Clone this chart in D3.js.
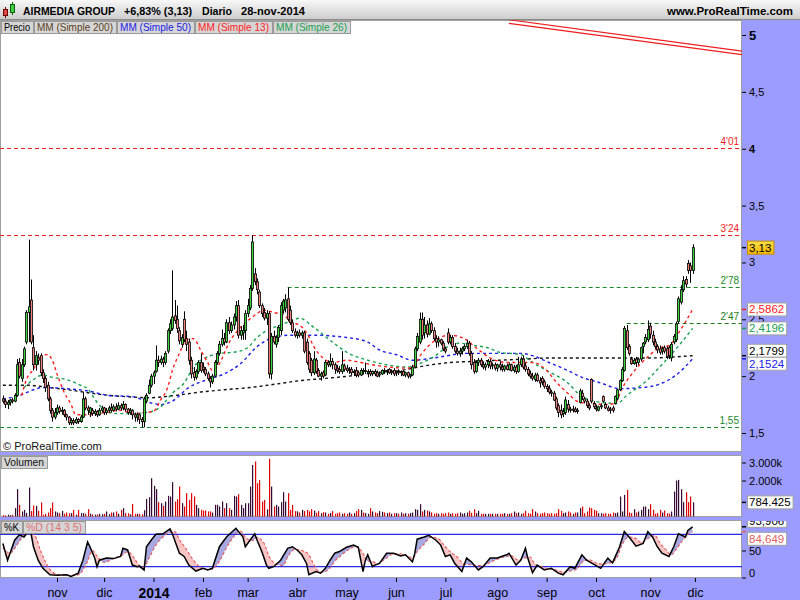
<!DOCTYPE html>
<html><head><meta charset="utf-8">
<script src="https://cdn.jsdelivr.net/npm/d3@7/dist/d3.min.js"></script>
<style>
html,body{margin:0;padding:0;background:#fff;}
svg{display:block;font-family:"Liberation Sans",Arial,sans-serif;}
</style></head><body>
<svg id="chart" width="800" height="600"></svg>
<script>
// ================= DATA (daily bars, 1-oct-2013 .. 28-nov-2014) =================
const open = [
 1.80,1.78,1.75,1.77,1.79,1.78,1.83,2.12,1.98,2.10,2.30,2.56,2.67,2.25,2.10,2.16,2.18,2.03,1.98,1.92,1.80,1.70,1.64,
 1.68,1.72,1.69,1.70,1.66,1.64,1.59,1.61,1.59,1.62,1.60,1.64,1.80,1.72,1.68,1.70,1.67,1.69,1.66,1.70,
 1.72,1.68,1.70,1.72,1.70,1.73,1.71,1.74,1.72,1.75,1.71,1.68,1.70,1.66,1.64,1.66,1.62,1.60,1.78,1.85,1.92,
 2.00,2.04,2.14,2.12,2.15,2.12,2.22,2.40,2.42,2.53,2.50,2.40,2.28,2.50,2.33,2.30,2.14,2.03,1.99,2.04,2.12,
 2.08,2.06,2.02,1.98,1.95,2.00,2.12,2.20,2.28,2.33,2.30,2.47,2.40,2.45,2.52,2.62,2.36,2.38,2.40,
 2.55,2.60,2.77,2.90,2.83,2.74,2.62,2.56,2.51,2.55,2.02,2.35,2.28,2.34,2.40,2.58,2.60,2.68,2.58,2.47,2.39,
 2.36,2.38,2.36,2.38,2.30,2.20,2.14,2.03,2.14,2.05,2.00,2.03,2.01,2.12,2.10,2.13,2.10,2.07,2.06,2.04,2.09,
 2.07,2.05,2.06,2.03,2.05,2.03,2.01,2.05,2.04,2.03,2.04,2.02,2.04,2.03,2.01,2.02,2.05,2.04,2.06,2.03,2.05,
 2.03,2.04,2.03,2.04,2.01,2.03,2.00,2.01,2.08,2.24,2.30,2.50,2.38,2.45,2.37,2.46,2.40,2.33,2.30,2.32,2.29,
 2.24,2.38,2.30,2.34,2.26,2.22,2.20,2.22,2.24,2.26,2.29,2.20,2.12,2.04,2.12,2.14,2.10,2.08,2.10,2.13,2.09,2.10,
 2.07,2.10,2.08,2.06,2.09,2.06,2.10,2.05,2.08,2.04,2.10,2.15,2.09,2.06,2.02,2.00,1.97,2.01,1.96,1.98,1.95,
 1.91,1.89,1.86,1.85,1.80,1.74,1.70,1.67,1.68,1.75,1.71,1.70,1.71,1.69,1.77,1.85,1.80,1.78,1.74,1.97,1.76,
 1.72,1.70,1.73,1.82,1.75,1.72,1.71,1.72,1.76,1.80,1.88,1.96,2.05,2.40,2.26,2.15,2.11,2.15,2.12,2.15,2.26,2.30,2.32,
 2.44,2.36,2.30,2.26,2.24,2.22,2.25,2.24,2.25,2.16,2.30,2.32,2.48,2.65,2.76,2.85,2.99,2.97,2.93];
const high = [
 1.83,1.80,1.79,1.80,1.81,1.85,2.15,2.16,2.15,2.26,2.58,3.20,2.85,2.36,2.22,2.20,2.20,2.06,2.00,1.95,1.82,1.72,1.72,
 1.75,1.74,1.73,1.71,1.67,1.65,1.63,1.63,1.64,1.63,1.66,1.86,1.82,1.74,1.73,1.72,1.71,1.70,1.72,1.74,
 1.73,1.72,1.74,1.76,1.75,1.76,1.77,1.76,1.78,1.76,1.72,1.72,1.71,1.68,1.68,1.67,1.64,1.82,1.85,1.97,2.02,
 2.05,2.27,2.18,2.18,2.17,2.22,2.42,2.50,2.93,2.67,2.62,2.43,2.37,2.57,2.40,2.33,2.17,2.08,2.06,2.14,2.20,
 2.12,2.08,2.04,2.00,2.02,2.14,2.22,2.31,2.41,2.38,2.50,2.52,2.48,2.55,2.66,2.67,2.44,2.45,2.58,
 2.68,2.80,3.24,2.95,2.86,2.76,2.64,2.60,2.58,2.57,2.38,2.40,2.36,2.45,2.65,2.68,2.72,2.78,2.62,2.50,2.42,
 2.40,2.41,2.40,2.40,2.33,2.22,2.16,2.22,2.16,2.07,2.04,2.05,2.14,2.14,2.20,2.16,2.12,2.10,2.09,2.22,2.11,
 2.10,2.08,2.08,2.06,2.08,2.05,2.07,2.07,2.12,2.06,2.06,2.05,2.06,2.05,2.04,2.06,2.07,2.06,2.07,2.06,2.07,
 2.05,2.06,2.05,2.05,2.04,2.04,2.02,2.10,2.26,2.38,2.56,2.56,2.52,2.49,2.51,2.48,2.43,2.36,2.35,2.33,2.31,
 2.26,2.42,2.36,2.36,2.29,2.25,2.25,2.26,2.28,2.32,2.31,2.22,2.15,2.14,2.16,2.16,2.13,2.12,2.15,2.15,2.12,2.12,
 2.11,2.13,2.11,2.10,2.11,2.12,2.11,2.10,2.10,2.17,2.17,2.18,2.12,2.08,2.05,2.03,2.03,2.03,1.99,2.00,1.97,
 1.93,1.92,1.88,1.87,1.82,1.76,1.75,1.72,1.82,1.79,1.73,1.74,1.73,1.72,1.89,1.88,1.82,1.80,1.76,1.98,1.78,
 1.75,1.74,1.76,1.83,1.77,1.74,1.73,1.74,1.83,1.89,1.97,2.08,2.44,2.45,2.28,2.17,2.16,2.17,2.16,2.26,2.30,2.37,2.49,
 2.47,2.40,2.33,2.28,2.27,2.26,2.27,2.26,2.27,2.30,2.37,2.48,2.70,2.80,2.88,2.88,3.02,3.00,3.16];
const low = [
 1.76,1.72,1.71,1.74,1.76,1.77,1.82,1.98,1.95,2.08,2.28,2.30,2.28,2.05,2.05,2.10,2.00,1.94,1.86,1.78,1.67,1.60,1.62,
 1.66,1.67,1.66,1.64,1.61,1.57,1.57,1.57,1.58,1.58,1.59,1.63,1.70,1.66,1.64,1.65,1.65,1.64,1.65,1.68,
 1.66,1.66,1.68,1.68,1.69,1.69,1.70,1.70,1.70,1.69,1.66,1.66,1.62,1.60,1.60,1.58,1.55,1.55,1.76,1.84,1.90,
 1.93,2.03,2.08,2.10,2.08,2.10,2.20,2.37,2.40,2.46,2.38,2.28,2.25,2.30,2.22,2.10,1.98,1.96,1.97,2.02,2.03,
 2.03,2.00,1.96,1.90,1.93,1.99,2.10,2.18,2.26,2.27,2.29,2.37,2.38,2.41,2.48,2.33,2.32,2.32,2.32,
 2.52,2.58,2.75,2.80,2.72,2.60,2.52,2.49,2.45,1.98,1.97,2.28,2.25,2.30,2.36,2.55,2.56,2.48,2.45,2.38,2.34,
 2.33,2.34,2.33,2.20,2.10,2.03,2.00,2.01,2.02,1.99,1.96,1.98,2.00,2.08,2.08,2.06,2.02,2.03,2.02,2.02,2.04,
 2.03,2.02,2.01,2.00,1.99,1.99,2.00,2.02,2.02,1.99,2.00,2.00,2.00,1.99,1.99,2.01,2.02,2.01,2.02,2.01,2.00,
 2.00,2.01,2.00,2.00,1.99,1.98,1.98,2.00,2.07,2.22,2.28,2.32,2.33,2.34,2.36,2.38,2.31,2.25,2.26,2.27,2.22,
 2.20,2.28,2.28,2.24,2.20,2.18,2.17,2.19,2.22,2.24,2.18,2.06,2.02,2.03,2.09,2.08,2.06,2.05,2.07,2.06,2.06,2.05,
 2.04,2.05,2.04,2.04,2.05,2.05,2.04,2.03,2.02,2.03,2.08,2.06,2.04,2.00,1.98,1.96,1.95,1.95,1.90,1.92,1.89,
 1.86,1.84,1.82,1.78,1.70,1.64,1.63,1.64,1.66,1.68,1.68,1.68,1.68,1.67,1.76,1.79,1.76,1.72,1.70,1.76,1.71,
 1.69,1.69,1.71,1.77,1.71,1.69,1.67,1.68,1.75,1.79,1.87,1.95,2.04,2.23,2.18,2.10,2.10,2.08,2.10,2.13,2.20,2.28,2.30,
 2.33,2.27,2.24,2.20,2.19,2.19,2.20,2.15,2.15,2.13,2.28,2.30,2.46,2.63,2.74,2.78,2.90,2.82,2.90];
const close = [
 1.78,1.75,1.77,1.79,1.78,1.83,2.10,2.00,2.10,2.24,2.56,2.61,2.30,2.10,2.18,2.14,2.03,1.98,1.90,1.80,1.70,1.64,1.68,
 1.72,1.69,1.70,1.66,1.64,1.59,1.61,1.59,1.62,1.60,1.64,1.80,1.72,1.70,1.72,1.67,1.69,1.66,1.70,1.72,
 1.68,1.70,1.72,1.70,1.73,1.71,1.74,1.72,1.75,1.71,1.68,1.70,1.66,1.64,1.66,1.62,1.60,1.80,1.83,1.92,2.00,
 2.03,2.14,2.12,2.15,2.12,2.20,2.40,2.46,2.52,2.49,2.42,2.31,2.34,2.32,2.28,2.14,2.02,1.99,2.04,2.12,2.05,
 2.06,2.02,1.98,1.95,2.00,2.12,2.20,2.28,2.33,2.30,2.47,2.40,2.45,2.52,2.62,2.36,2.40,2.40,2.55,
 2.62,2.77,3.18,2.83,2.76,2.62,2.55,2.51,2.55,2.02,2.35,2.30,2.34,2.43,2.62,2.66,2.67,2.50,2.47,2.40,2.36,
 2.38,2.36,2.38,2.22,2.12,2.06,2.03,2.15,2.04,2.00,2.02,2.00,2.12,2.10,2.13,2.10,2.06,2.05,2.04,2.10,2.06,
 2.05,2.06,2.03,2.04,2.01,2.01,2.05,2.04,2.05,2.04,2.02,2.04,2.02,2.00,2.02,2.05,2.04,2.05,2.03,2.04,2.02,
 2.04,2.03,2.04,2.01,2.03,2.00,2.01,2.08,2.24,2.35,2.50,2.36,2.45,2.37,2.46,2.40,2.33,2.30,2.32,2.29,2.24,
 2.22,2.30,2.34,2.26,2.22,2.20,2.22,2.24,2.26,2.29,2.20,2.10,2.04,2.12,2.14,2.10,2.08,2.10,2.13,2.09,2.10,2.07,
 2.10,2.08,2.06,2.09,2.06,2.10,2.05,2.08,2.04,2.10,2.15,2.08,2.06,2.02,2.00,1.98,2.01,1.96,1.94,1.95,1.91,
 1.89,1.86,1.85,1.79,1.72,1.68,1.66,1.69,1.79,1.71,1.70,1.71,1.69,1.70,1.87,1.82,1.78,1.74,1.72,1.78,1.73,
 1.71,1.73,1.74,1.78,1.72,1.70,1.70,1.70,1.82,1.88,1.96,2.06,2.42,2.25,2.20,2.11,2.14,2.12,2.15,2.25,2.29,2.34,2.41,
 2.37,2.30,2.26,2.23,2.21,2.24,2.22,2.17,2.18,2.28,2.35,2.46,2.68,2.76,2.84,2.81,2.93,2.93,3.13];
// volume, thousands of shares
const volume = [
 80,60,100,70,90,463,1517,648,280,370,200,1610,300,611,592,315,777,93,150,222,463,777,280,
 222,185,315,150,222,180,185,370,100,370,185,185,150,407,150,120,100,110,150,130,
 148,280,130,222,222,280,150,370,463,185,185,120,700,148,148,148,120,350,980,1073,2128,
 1702,1517,796,740,592,833,1147,1110,1906,833,962,1665,740,555,1295,925,1295,1110,648,463,370,
 330,330,280,280,220,650,650,555,833,463,740,463,370,1147,1110,1240,648,463,740,
 740,1665,2868,3053,1850,2035,833,925,400,3200,1665,555,648,555,796,1350,833,1295,370,648,300,
 280,222,370,300,370,280,407,330,200,300,185,240,222,150,200,300,148,185,222,150,185,
 150,222,148,185,300,407,370,222,185,150,463,280,222,185,300,260,222,185,222,150,185,
 185,150,222,150,185,148,185,222,407,370,685,278,370,333,280,222,150,185,148,185,150,
 185,222,150,185,148,185,222,150,185,222,315,200,407,185,315,148,150,148,150,148,150,148,
 148,150,148,185,150,148,185,278,185,222,150,185,315,185,150,407,278,185,150,185,222,
 185,150,185,150,185,407,315,185,222,278,222,150,222,222,463,555,185,278,500,463,370,
 315,185,185,150,185,150,148,222,185,222,1110,278,1203,1480,222,185,407,222,278,370,555,555,407,
 685,370,150,185,370,222,333,185,150,278,1388,1998,2035,1517,796,1350,796,1110,784.425];

// month axis: bar index of the first session of each month, and its label
const monthIdx = [23,43,64,85,104,125,146,167,188,210,231,252,275,294];
const monthLabels = ["nov","dic","2014","feb","mar","abr","may","jun","jul","ago","sep","oct","nov","dic"];
const priceTicks = [1.5,2,2.5,3,3.5,4,4.5,5];
const volTicks = [2000,3000];
const stochTicks = [0,50];

// moving averages (bar index, value)
const ma200Idx = [0,10,20,31,41,52,62,73,84,94,105,116,126,137,147,158,169,179,190,200,211,222,232,243,254,264,275,286,293];
const ma200Val = [1.92,1.92,1.90,1.87,1.84,1.82,1.81,1.83,1.86,1.88,1.90,1.93,1.96,1.98,2.00,2.03,2.05,2.09,2.12,2.13,2.14,2.15,2.16,2.16,2.16,2.16,2.16,2.17,2.1799];
const ma50Idx = [0,7,13,17,27,36,45,55,62,67,72,79,87,94,101,108,115,122,132,146,155,160,167,174,183,197,211,220,225,232,240,246,254,262,272,279,286,293];
const ma50Val = [1.80,1.83,1.88,1.90,1.89,1.87,1.83,1.82,1.77,1.75,1.78,1.90,1.97,2.02,2.11,2.26,2.34,2.36,2.36,2.34,2.30,2.23,2.19,2.14,2.16,2.20,2.20,2.20,2.18,2.12,2.05,1.99,1.94,1.89,1.90,1.93,2.01,2.1524];
const ma13Idx = [8,10,13,16,19,21,23,26,29,31,36,40,44,50,55,60,64,67,70,72,75,78,81,84,87,89,92,96,101,106,111,115,119,123,126,129,133,136,140,146,152,157,164,172,174,178,184,190,196,201,207,214,225,231,235,240,245,251,256,260,263,268,274,278,283,288,293];
const ma13Val = [1.83,1.97,2.06,2.17,2.19,2.14,2.02,1.86,1.75,1.66,1.66,1.67,1.68,1.70,1.67,1.68,1.69,1.79,1.90,2.05,2.20,2.32,2.33,2.23,2.12,2.05,2.11,2.29,2.43,2.52,2.58,2.56,2.54,2.47,2.45,2.38,2.23,2.16,2.12,2.14,2.12,2.10,2.08,2.07,2.08,2.20,2.32,2.36,2.33,2.25,2.16,2.12,2.12,2.05,1.95,1.85,1.77,1.76,1.75,1.76,1.89,2.04,2.17,2.24,2.27,2.41,2.5862];
const ma26Idx = [9,13,17,21,27,33,36,40,45,50,55,61,67,72,77,81,87,92,98,104,108,112,118,123,126,132,140,147,155,163,172,177,183,189,194,200,206,211,220,225,231,240,246,254,261,265,274,279,286,293];
const ma26Val = [1.90,1.97,2.01,1.99,1.97,1.92,1.89,1.77,1.68,1.67,1.67,1.68,1.73,1.85,1.94,2.08,2.17,2.20,2.21,2.25,2.34,2.40,2.45,2.49,2.51,2.43,2.30,2.20,2.14,2.10,2.08,2.11,2.17,2.26,2.29,2.27,2.25,2.21,2.19,2.12,2.05,1.94,1.82,1.77,1.76,1.83,1.97,2.08,2.24,2.4196];

// stochastic %K / %D (14 3 5) (bar index, value)
const kIdx = [0,2,5,7,9,11,12,13,15,17,20,23,27,29,32,34,36,37,39,40,41,44,47,50,51,53,55,57,58,60,61,63,65,68,71,72,75,77,79,82,85,87,89,92,95,98,99,102,103,105,107,108,110,112,113,115,118,121,123,125,127,129,130,133,135,137,139,141,143,146,149,151,153,154,155,157,158,160,163,166,169,171,174,175,176,179,181,184,186,188,190,192,195,197,199,202,204,207,210,214,215,218,220,222,223,225,227,230,233,236,238,241,243,246,248,250,254,257,259,262,264,266,269,272,274,276,278,280,283,285,287,290,291,293];
const kVal = [63,32,69,79,75,87,81,57,32,17,5,4,5,2,8,32,66,57,36,20,32,36,35,39,54,51,23,20,21,14,57,69,80,81,90,81,45,39,23,12,17,14,17,57,75,87,91,75,57,69,81,69,48,23,17,20,32,54,57,51,42,26,5,11,8,17,32,45,48,56,60,56,11,32,42,20,23,26,45,45,40,42,29,45,71,75,78,69,60,39,42,26,11,36,29,14,20,36,36,42,45,23,32,54,36,9,23,14,17,8,5,20,17,42,32,27,17,36,27,57,85,75,58,63,85,75,57,45,39,57,81,75,87,93.906];
const dIdx = [0,3,6,9,12,14,16,18,20,23,27,31,33,36,38,40,43,46,48,51,53,56,58,60,62,65,68,70,73,75,78,80,83,86,89,92,95,98,101,103,106,108,111,113,116,119,121,124,127,130,132,134,136,139,141,144,147,150,153,155,157,159,162,165,169,172,174,176,179,182,185,187,190,193,196,198,201,204,207,210,213,216,219,221,224,226,229,232,235,238,241,244,246,249,252,255,258,261,263,266,269,271,274,277,279,282,284,286,289,291,293];
const dVal = [55,45,60,78,82,75,50,30,15,6,4,4,8,30,50,40,28,33,37,42,48,35,22,20,35,60,75,82,85,70,52,38,22,15,16,30,55,75,86,75,68,74,63,40,25,22,38,52,50,42,25,12,10,18,30,42,52,57,45,30,30,25,33,42,44,40,36,48,62,75,72,62,48,38,25,24,22,22,28,34,38,40,32,35,38,25,20,16,14,10,12,16,28,33,27,25,27,38,60,75,72,65,72,78,65,50,42,52,70,80,84.649];

// horizontal levels drawn on the chart
const levelVal = [4.01, 3.24, 2.78, 2.47, 1.55];
const levelText = ["4'01","3'24","2'78","2'47","1,55"];
const levelFrom = [0, 0, 121, 265, 0];
const levelColor = ["#ee1c1c","#ee1c1c","#1a8a2a","#1a7a1a","#1a8a2a"];
// double red trend line (bar index, price)
const trendIdx = [215, 314];
const trendA = [5.134, 4.859];
const trendB = [5.103, 4.828];

// ================= DRAW =================
const svg = d3.select("#chart");
const PR = 742;
const PURPLE = "#9c9cff";
const FRAME = "#a0a0a0";
const UP = "#3ed43e", DOWN = "#f08080";
const C13 = "#ff2020", C26 = "#18a050", C50 = "#2020e6", C200 = "#111";

const x = d3.scaleLinear().domain([0, 314]).range([2.86, PR]);
const yP = d3.scaleLinear().domain([1.5, 5]).range([433, 35]);
const yV = d3.scaleLinear().domain([0, 3000]).range([516.5, 462.5]);
const yS = d3.scaleLinear().domain([0, 100]).range([577.5, 523.5]);
const loc = d3.formatLocale({decimal: ",", thousands: ".", grouping: [3], currency: ["", ""]});
const comma = v => String(v).replace(".", ",");

const defs = svg.append("defs");
const hg = defs.append("linearGradient").attr("id","hdr").attr("x1",0).attr("x2",0).attr("y1",0).attr("y2",1);
hg.append("stop").attr("offset",0).attr("stop-color","#f8f8f8");
hg.append("stop").attr("offset",1).attr("stop-color","#cbcbcb");
const yg = defs.append("linearGradient").attr("id","yel").attr("x1",0).attr("x2",0).attr("y1",0).attr("y2",1);
yg.append("stop").attr("offset",0).attr("stop-color","#ffe04a");
yg.append("stop").attr("offset",1).attr("stop-color","#f4b400");
function clip(id, x0, y0, w, h){ defs.append("clipPath").attr("id", id).append("rect").attr("x",x0).attr("y",y0).attr("width",w).attr("height",h); }
clip("cMain", 0, 20, PR, 432);
clip("cVol", 0, 455, PR, 62);
clip("cSt", 0, 520, PR, 58);
clip("cStAx", PR, 521, 800-PR, 57);

// backgrounds
svg.append("rect").attr("width",800).attr("height",600).attr("fill","#fff");
svg.append("rect").attr("x",PR).attr("y",20).attr("width",800-PR).attr("height",580).attr("fill",PURPLE);
svg.append("rect").attr("x",0).attr("y",578).attr("width",PR).attr("height",22).attr("fill",PURPLE);
svg.append("rect").attr("x",0).attr("y",452).attr("width",PR).attr("height",3).attr("fill",PURPLE);
svg.append("rect").attr("x",0).attr("y",517).attr("width",PR).attr("height",3).attr("fill",PURPLE);
[[20,452],[455,517],[520,578]].forEach(([t,b]) =>
  svg.append("rect").attr("x",0.5).attr("y",t+0.5).attr("width",PR-1).attr("height",b-t-1)
     .attr("fill","#fff").attr("stroke",FRAME));

// ---------- main price panel ----------
const gm = svg.append("g").attr("clip-path","url(#cMain)");
levelVal.forEach((v,i) => {
  gm.append("line").attr("x1", levelFrom[i] ? x(levelFrom[i]) : 0).attr("x2", PR)
    .attr("y1", Math.round(yP(v))+0.5).attr("y2", Math.round(yP(v))+0.5)
    .attr("stroke", levelColor[i]).attr("stroke-width",1).attr("stroke-dasharray","4,3");
  gm.append("text").attr("x", PR-3).attr("y", yP(v)-3).attr("text-anchor","end")
    .attr("font-size",10).attr("fill", levelColor[i]).text(levelText[i]);
});
// trend lines
const tl = d3.line().x(d=>x(d[0])).y(d=>yP(d[1]));
[trendA, trendB].forEach(arr => gm.append("path").attr("d", tl(trendIdx.map((t,i)=>[t, arr[i]])))
   .attr("fill","none").attr("stroke","#ee1c1c").attr("stroke-width",1.2));

// moving averages
const maLine = d3.line().x(d=>x(d[0])).y(d=>yP(d[1])).curve(d3.curveMonotoneX);
[[ma200Idx, ma200Val, C200],[ma50Idx, ma50Val, C50],[ma26Idx, ma26Val, C26],[ma13Idx, ma13Val, C13]].forEach(([ix, vv, col]) => {
  gm.append("path").attr("d", maLine(ix.map((t,i)=>[t, vv[i]])))
    .attr("fill","none").attr("stroke", col).attr("stroke-width",1.4).attr("stroke-dasharray","3,3");
});

// candles
const bars = d3.range(close.length);
gm.append("g").selectAll("line").data(bars).join("line")
  .attr("x1", i => Math.round(x(i))+0.5).attr("x2", i => Math.round(x(i))+0.5)
  .attr("y1", i => yP(high[i])).attr("y2", i => yP(low[i]))
  .attr("stroke","#000").attr("stroke-width",1);
gm.append("g").selectAll("rect").data(bars).join("rect")
  .attr("x", i => Math.round(x(i))-0.5).attr("width", 2)
  .attr("y", i => yP(Math.max(open[i], close[i])))
  .attr("height", i => Math.max(1, Math.abs(yP(open[i]) - yP(close[i]))))
  .attr("fill", i => close[i] >= open[i] ? UP : DOWN)
  .attr("stroke","#000").attr("stroke-width",0.8);

svg.append("text").attr("x",3).attr("y",450).attr("font-size",11).attr("fill","#111").text("© ProRealTime.com");

// ---------- volume panel ----------
const gv = svg.append("g").attr("clip-path","url(#cVol)");
gv.selectAll("rect").data(bars).join("rect")
  .attr("x", i => Math.round(x(i))).attr("width", 1.2)
  .attr("y", i => yV(volume[i])).attr("height", i => yV(0) - yV(volume[i]))
  .attr("fill", i => close[i] >= open[i] ? "#340a34" : "#dd0000");

// ---------- stochastic panel ----------
const gs = svg.append("g").attr("clip-path","url(#cSt)");
const kPts = kIdx.map((t,i)=>[t, kVal[i]]);
const dPts = dIdx.map((t,i)=>[t, dVal[i]]);
const dCurve = d3.curveMonotoneX;
defs.append("clipPath").attr("id","belowK").append("path")
  .attr("d", d3.area().x(d=>x(d[0])).y0(d=>yS(d[1])).y1(600)(kPts));
defs.append("clipPath").attr("id","belowD").append("path")
  .attr("d", d3.area().x(d=>x(d[0])).y0(d=>yS(d[1])).y1(600).curve(dCurve)(dPts));
gs.append("path").attr("clip-path","url(#belowK)")
  .attr("d", d3.area().x(d=>x(d[0])).y0(d=>yS(d[1])).y1(500).curve(dCurve)(dPts))
  .attr("fill","#a9a9e2");
gs.append("path").attr("clip-path","url(#belowD)")
  .attr("d", d3.area().x(d=>x(d[0])).y0(d=>yS(d[1])).y1(500)(kPts))
  .attr("fill","#f6c6c6");
[80,20].forEach(v => gs.append("line").attr("x1",0).attr("x2",PR)
  .attr("y1", yS(v)).attr("y2", yS(v)).attr("stroke","#2a2ae0").attr("stroke-width",1.3));
gs.append("path").attr("d", d3.line().x(d=>x(d[0])).y(d=>yS(d[1])).curve(dCurve)(dPts))
  .attr("fill","none").attr("stroke","#e85a5a").attr("stroke-width",1.1).attr("stroke-dasharray","3,2");
gs.append("path").attr("d", d3.line().x(d=>x(d[0])).y(d=>yS(d[1]))(kPts))
  .attr("fill","none").attr("stroke","#000").attr("stroke-width",1.5);

// ---------- axes ----------
const axP = svg.append("g").attr("transform",`translate(${PR},0)`)
  .call(d3.axisRight(yP).tickValues(priceTicks).tickSize(4).tickPadding(3).tickFormat(comma));
axP.select(".domain").remove();
axP.selectAll("text").attr("font-family","Liberation Sans, Arial, sans-serif").attr("fill","#000")
   .attr("font-weight", d => (d === 5 || d === 4) ? "bold" : null)
   .attr("font-size", d => d === 5 ? 13 : 11);
const axV = svg.append("g").attr("transform",`translate(${PR},0)`)
  .call(d3.axisRight(yV).tickValues(volTicks).tickSize(4).tickPadding(3).tickFormat(d => loc.format(",")(d) + "k"));
axV.select(".domain").remove();
axV.selectAll("text").attr("font-size",11).attr("font-family","Liberation Sans, Arial, sans-serif");
const axS = svg.append("g").attr("transform",`translate(${PR},0)`)
  .call(d3.axisRight(yS).tickValues(stochTicks).tickSize(4).tickPadding(3));
axS.select(".domain").remove();
axS.selectAll("text").attr("font-size",11).attr("font-family","Liberation Sans, Arial, sans-serif")
   .attr("dy", d => d === 0 ? "-0.1em" : "0.32em");
const axX = svg.append("g").attr("transform","translate(0,578)")
  .call(d3.axisBottom(x).tickValues(monthIdx).tickSize(4).tickPadding(6).tickFormat((d,i) => monthLabels[i]));
axX.select(".domain").remove();
axX.selectAll("text").attr("font-family","Liberation Sans, Arial, sans-serif")
   .attr("font-size", (d,i) => monthLabels[i] === "2014" ? 14 : 12.5)
   .attr("font-weight", (d,i) => monthLabels[i] === "2014" ? "bold" : null);

// ---------- value tags ----------
function spread(list){
  list.sort((a,b)=>a.y-b.y);
  for (let i=1;i<list.length;i++){
    if (list[i].y - list[i-1].y < 13){ const m=(list[i].y+list[i-1].y)/2; list[i-1].y=m-6.5; list[i].y=m+6.5; }
  }
  return list;
}
function tags(parent, list){
  list.forEach(t => {
    parent.append("line").attr("x1",PR).attr("x2",PR+4).attr("y1",t.y0).attr("y2",t.y0)
      .attr("stroke", t.tick || t.color).attr("stroke-width",1.5);
    const g = parent.append("g");
    const tx = g.append("text").attr("x",PR+7).attr("y",t.y+4).attr("font-size",11.5).attr("fill",t.color).text(t.text);
    const w = tx.node().getComputedTextLength();
    g.insert("rect","text").attr("x",PR+5.5).attr("y",t.y-6.5).attr("width",w+4).attr("height",13)
      .attr("fill", t.fill || "#fff").attr("stroke", t.stroke || "#a0a0a0");
  });
}
const mainTags = spread([
  {v:3.13, text:"3,13", color:"#000", tick:"#000", fill:"url(#yel)", stroke:"#c89000"},
  {v:2.5862, text:"2,5862", color:C13},
  {v:2.4196, text:"2,4196", color:C26},
  {v:2.1799, text:"2,1799", color:"#000"},
  {v:2.1524, text:"2,1524", color:C50}
].map(t => Object.assign(t, {y:yP(t.v), y0:yP(t.v)})));
tags(svg.append("g"), mainTags);
const vv = volume[volume.length-1];
tags(svg.append("g"), [{text: loc.format(",")(Math.round(vv*1000)), color:"#000", tick:"#000", y:yV(vv), y0:yV(vv)}]);
const stTags = spread([
  {v:kVal[kVal.length-1], text:"93,906", color:"#000"},
  {v:dVal[dVal.length-1], text:"84,649", color:"#e06060"}
].map(t => Object.assign(t, {y:yS(t.v), y0:yS(t.v)})));
stTags[0].y -= 2;
stTags[1].y += 3;
tags(svg.append("g").attr("clip-path","url(#cStAx)"), stTags);

// ---------- header ----------
svg.append("rect").attr("width",800).attr("height",20).attr("fill","url(#hdr)");
svg.append("line").attr("x1",0).attr("x2",800).attr("y1",19.5).attr("y2",19.5).attr("stroke","#8a8a8a");
svg.append("line").attr("x1",5.5).attr("x2",5.5).attr("y1",7).attr("y2",18).attr("stroke","#600");
svg.append("rect").attr("x",3.5).attr("y",9.5).attr("width",4).attr("height",6).attr("fill","#e04848").attr("stroke","#700");
svg.append("line").attr("x1",12.5).attr("x2",12.5).attr("y1",2).attr("y2",15).attr("stroke","#060");
svg.append("rect").attr("x",10.5).attr("y",4.5).attr("width",4).attr("height",8).attr("fill","#44cc44").attr("stroke","#060");
const hdr = [["AIRMEDIA GROUP",23,92],["+6,83% (3,13)",124,68],["Diario",202,30],["28-nov-2014",241,64]];
hdr.forEach(([t,xx,w]) => svg.append("text").attr("x",xx).attr("y",15).attr("font-size",11.5).attr("font-weight","bold")
  .attr("textLength",w).attr("lengthAdjust","spacingAndGlyphs").text(t));
svg.append("text").attr("x",667).attr("y",15).attr("font-size",11.5).attr("font-weight","bold")
  .attr("textLength",126).attr("lengthAdjust","spacingAndGlyphs").text("www.ProRealTime.com");

// ---------- legend boxes ----------
function legendRow(items, x0, y0){
  let xx = x0;
  items.forEach(([t,col,w]) => {
    const g = svg.append("g");
    g.append("rect").attr("x",xx+0.5).attr("y",y0+0.5).attr("width",w+6).attr("height",12)
      .attr("fill","#d6d6d6").attr("stroke","#9a9a9a");
    g.append("text").attr("x",xx+3).attr("y",y0+10).attr("font-size",11).attr("fill",col)
      .attr("textLength",w).attr("lengthAdjust","spacingAndGlyphs").text(t);
    xx += w + 7;
  });
}
legendRow([["Precio","#000",26],["MM (Simple 200)","#5a3e1a",76],["MM (Simple 50)",C50,71],["MM (Simple 13)",C13,71],["MM (Simple 26)",C26,71]], 1, 21);
legendRow([["Volumen","#111",40]], 1, 456);
legendRow([["%K","#000",15],["%D (14 3 5)","#e07070",56]], 1, 521);
</script></body></html>
